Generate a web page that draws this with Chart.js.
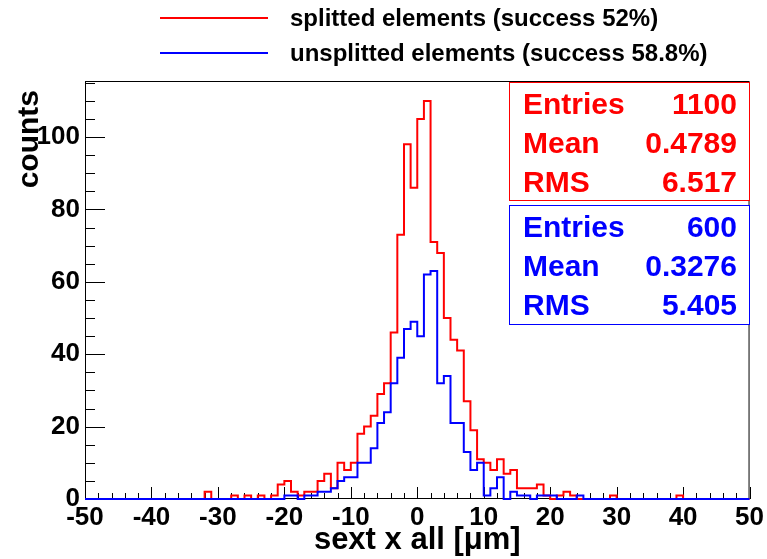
<!DOCTYPE html>
<html>
<head>
<meta charset="utf-8">
<script src="https://cdn.jsdelivr.net/npm/chart.js@4.4.1/dist/chart.umd.min.js"></script>
<style>
  body { margin: 0; background: #fff; }
  #wrap { position: relative; width: 767px; height: 559px; font-family: "Liberation Sans", Arial, sans-serif; font-weight: bold; }
  #wrap canvas { position: absolute; left: 0; top: 0; }
  .legline { position: absolute; left: 160px; width: 108px; height: 2px; }
  .legtext { position: absolute; left: 290px; font-size: 24px; line-height: 30px; color: #000; white-space: nowrap; }
  .stats { position: absolute; left: 509px; width: 241px; box-sizing: border-box; background: #fff; }
  .row { position: absolute; left: 13px; right: 12px; height: 40px; line-height: 40px; font-size: 30px; display: flex; justify-content: space-between; white-space: nowrap; }
</style>
</head>
<body>
<div id="wrap">
  <canvas id="myChart" width="767" height="559"></canvas>

  <div class="legline" style="top:17px; background:#ff0000;"></div>
  <div class="legtext" style="top:3px;">splitted elements (success 52%)</div>
  <div class="legline" style="top:52px; background:#0000ff;"></div>
  <div class="legtext" style="top:38px;">unsplitted elements (success 58.8%)</div>

  <div class="stats" id="statsRed" style="top:82px; height:119px; border:1px solid #ff0000; color:#ff0000;"></div>
  <div class="stats" id="statsBlue" style="top:205px; height:120px; border:1px solid #0000ff; color:#0000ff;"></div>
</div>

<script>
// histogram bins: 100 bins of width 1 from -50 to 50
var binLow = -50;
var binWidth = 1;

// splitted elements
var redCounts = [
    0, 0, 0, 0, 0, 0, 0, 0, 0, 0,      // -50 .. -41
    0, 0, 0, 0, 0, 0, 0, 0, 2, 0,      // -40 .. -31
    0, 0, 1, 0, 1, 0, 1, 0, 1, 4,      // -30 .. -21
    5, 2, 1, 2, 2, 5, 7, 3, 10, 8,     // -20 .. -11
    10, 18, 20, 23, 29, 32, 46, 73, 98, 86,   // -10 .. -1
    105, 110, 71, 68, 50, 44, 41, 27, 19, 11, //   0 .. 9
    10, 8, 11, 7, 8, 3, 3, 3, 4, 1,    //  10 .. 19
    0, 1, 2, 1, 0, 0, 0, 0, 0, 1,      //  20 .. 29
    0, 0, 0, 0, 0, 0, 0, 0, 0, 1,      //  30 .. 39
    0, 0, 0, 0, 0, 0, 0, 0, 0, 0       //  40 .. 49
];

// unsplitted elements
var blueCounts = [
    0, 0, 0, 0, 0, 0, 0, 0, 0, 0,
    0, 0, 0, 0, 0, 0, 0, 0, 0, 0,
    0, 0, 0, 0, 0, 0, 0, 0, 0, 0,
    1, 1, 0, 1, 1, 2, 2, 3, 5, 6,
    6, 10, 10, 14, 21, 24, 32, 39, 47, 49,
    45, 62, 63, 32, 34, 21, 21, 13, 8, 10,
    1, 3, 6, 0, 2, 1, 1, 0, 1, 1,
    1, 0, 0, 0, 1, 0, 0, 0, 0, 0,
    0, 0, 0, 0, 0, 0, 0, 0, 0, 0,
    0, 0, 0, 0, 0, 0, 0, 0, 0, 0
];

var statLabels = ['Entries', 'Mean', 'RMS'];
var redStats = ['1100', '0.4789', '6.517'];
var blueStats = ['600', '0.3276', '5.405'];

var xTickMin = -50, xTickMax = 50, xTickStep = 10;
var yMax = 115.5, yTickStep = 20;

function toSteps(counts) {
    var pts = counts.map(function (c, i) {
        return { x: binLow + i * binWidth, y: c };
    });
    // close the last bin at its upper edge
    pts.push({ x: binLow + counts.length * binWidth, y: counts[counts.length - 1] });
    return pts;
}

function fillStats(id, values) {
    var box = document.getElementById(id);
    var tops = [1, 40, 79];
    statLabels.forEach(function (lab, i) {
        var row = document.createElement('div');
        row.className = 'row';
        row.style.top = tops[i] + 'px';
        row.innerHTML = '<span>' + lab + '</span><span>' + values[i] + '</span>';
        box.appendChild(row);
    });
}
fillStats('statsRed', redStats);
fillStats('statsBlue', blueStats);

var fontFam = '"Liberation Sans", Arial, sans-serif';

// frame + inward ticks like ROOT, plus the y title hanging from the top
var rootFrame = {
    id: 'rootFrame',
    beforeDatasetsDraw: function (chart) {
        var ctx = chart.ctx, a = chart.chartArea;
        var x = chart.scales.x, y = chart.scales.y;
        ctx.save();
        ctx.strokeStyle = '#000';
        ctx.lineWidth = 1;
        ctx.beginPath();
        for (var v = xTickMin; v <= xTickMax; v += 2) {
            var px = Math.round(x.getPixelForValue(v)) + 0.5;
            var len = (v % xTickStep === 0) ? 12 : 6;
            ctx.moveTo(px, a.bottom);
            ctx.lineTo(px, a.bottom - len);
        }
        for (var w = 0; w <= yMax; w += 5) {
            var py = Math.round(y.getPixelForValue(w)) + 0.5;
            var ylen = (w % yTickStep === 0) ? 20 : 10;
            ctx.moveTo(a.left, py);
            ctx.lineTo(a.left + ylen, py);
        }
        ctx.stroke();
        ctx.strokeRect(a.left + 0.5, a.top + 0.5, a.width - 1, a.height - 1);

        // y axis title
        ctx.translate(30, a.top + 9);
        ctx.rotate(-Math.PI / 2);
        ctx.fillStyle = '#000';
        ctx.font = 'bold 30px ' + fontFam;
        ctx.textAlign = 'right';
        ctx.textBaseline = 'middle';
        ctx.fillText('counts', 0, 0);
        ctx.restore();
    }
};

var ctx = document.querySelector('#myChart').getContext('2d');
var myChart = new Chart(ctx, {
    type: 'line',
    data: {
        datasets: [{
            label: 'unsplitted elements (success 58.8%)',
            data: toSteps(blueCounts),
            borderColor: '#0000ff',
            borderWidth: 2,
            stepped: true,
            pointRadius: 0,
            fill: false,
            clip: 4
        }, {
            label: 'splitted elements (success 52%)',
            data: toSteps(redCounts),
            borderColor: '#ff0000',
            borderWidth: 2,
            stepped: true,
            pointRadius: 0,
            fill: false,
            clip: 4
        }]
    },
    options: {
        responsive: false,
        animation: false,
        events: [],
        layout: { padding: { top: 81, right: 16, left: 0, bottom: 0 } },
        plugins: {
            legend: { display: false },
            tooltip: { enabled: false }
        },
        scales: {
            x: {
                type: 'linear',
                min: xTickMin,
                max: xTickMax,
                afterFit: function (s) { s.height = 60; },
                grid: { display: false, drawTicks: false },
                border: { display: false },
                ticks: {
                    stepSize: xTickStep,
                    autoSkip: false,
                    maxRotation: 0,
                    padding: 3,
                    color: '#000',
                    font: { family: fontFam, size: 26, weight: 'bold' }
                },
                title: {
                    display: true,
                    text: 'sext x all [\u03bcm]',
                    color: '#000',
                    padding: { top: 0, bottom: 0 },
                    font: { family: fontFam, size: 31, weight: 'bold' }
                }
            },
            y: {
                min: 0,
                max: yMax,
                afterFit: function (s) { s.width = 85; },
                grid: { display: false, drawTicks: false },
                border: { display: false },
                ticks: {
                    stepSize: yTickStep,
                    includeBounds: false,
                    padding: 5,
                    color: '#000',
                    font: { family: fontFam, size: 26, weight: 'bold' }
                }
            }
        }
    },
    plugins: [rootFrame]
});
</script>
</body>
</html>
